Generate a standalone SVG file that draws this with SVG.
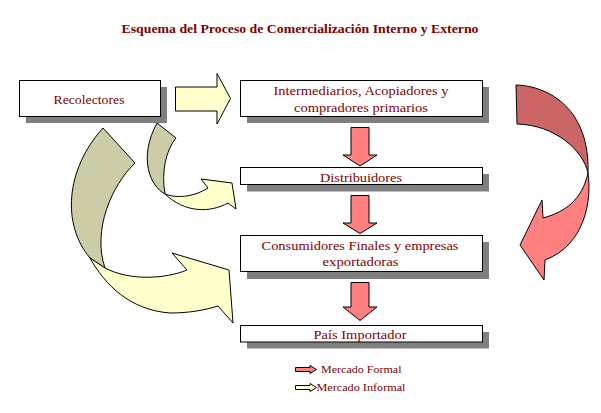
<svg xmlns="http://www.w3.org/2000/svg" width="601" height="413" viewBox="0 0 601 413">
<defs>
<style>
.bg{fill:#ffffff}
.box{fill:#ffffff;stroke:#000000;stroke-width:1}
.sh{fill:#808080}
.t{font-family:"Liberation Serif","Times New Roman",serif;font-size:13px;fill:#800000;text-anchor:middle}
.title{font-family:"Liberation Serif","Times New Roman",serif;font-size:12.5px;font-weight:bold;fill:#800000;text-anchor:middle}
.lg{font-family:"Liberation Serif","Times New Roman",serif;font-size:11px;fill:#800000}
.red{fill:#FF8080;stroke:#000000;stroke-width:1;stroke-linejoin:miter}
.dred{fill:#CC6666;stroke:#000000;stroke-width:1}
.yel{fill:#FFFFCC;stroke:#000000;stroke-width:1}
.tan{fill:#CCCCA6;stroke:#000000;stroke-width:1}
</style>
</defs>
<rect class="bg" x="0" y="0" width="601" height="413"/>
<text class="title" x="300" y="33" textLength="357" lengthAdjust="spacingAndGlyphs">Esquema del Proceso de Comercialización Interno y Externo</text>

<g id="connectors">
  <!-- Recolectores -> Intermediarios straight yellow arrow -->
  <polygon class="yel" points="175.5,87 217,87 217,73.5 230.5,98.5 217,124 217,111 175.5,111"/>
  <!-- red down arrows -->
  <polygon class="red" points="351,127.5 369,127.5 369,155 377,155 360,166 343,155 351,155"/>
  <polygon class="red" points="351,195.5 369,195.5 369,223 377,223 360,233.5 343,223 351,223"/>
  <polygon class="red" points="351,282.5 369,282.5 369,307 377,307 360,320.5 343,307 351,307"/>
  <!-- right curved arrow: Intermediarios -> Consumidores -->
  <path class="dred" d="M516,85 C550,86 590,110 588,173 C583,150 555,125 517,124 Z"/>
  <path class="red" d="M588,173 C592,200 585,245 545,260 L544,280 L520,245 L542,200 L543,218 C565,212 582,200 588,173 Z"/>
  <!-- small left curved arrow: Recolectores -> Distribuidores -->
  <path class="tan" d="M157,123 L176,138 C166,150 161,172 165,194 C150,186 138,158 157,123 Z"/>
  <path class="yel" d="M165,194 C175,198 192,198 208,188 L201,179 L232,183 L236,209 L228,203 C210,213 185,213 165,194 Z"/>
  <!-- big left curved arrow: Recolectores -> Consumidores -->
  <path class="tan" d="M103,128 L135,163 C112,185 92,230 105,268 L90,258 C62,225 65,170 103,128 Z"/>
  <path class="yel" d="M90,258 C105,285 130,310 170,313 C190,313 205,310 218,306 L233,323 L229,270 L172,253 L187,270 C165,279 130,281 105,268 Z"/>
</g>

<g id="recolectores">
  <rect class="sh" x="26" y="87" width="141" height="36"/>
  <rect class="box" x="19.5" y="80.5" width="141" height="36"/>
  <text class="t" x="89" y="103.5" textLength="71" lengthAdjust="spacingAndGlyphs">Recolectores</text>
</g>

<g id="intermediarios">
  <rect class="sh" x="247" y="87" width="242" height="36"/>
  <rect class="box" x="240.5" y="80.5" width="242" height="36"/>
  <text class="t" x="361" y="95" textLength="175" lengthAdjust="spacingAndGlyphs">Intermediarios, Acopiadores y</text>
  <text class="t" x="361" y="112" textLength="134" lengthAdjust="spacingAndGlyphs">compradores primarios</text>
</g>

<g id="distribuidores">
  <rect class="sh" x="247" y="174" width="242" height="17.5"/>
  <rect class="box" x="240.5" y="167.5" width="242" height="17"/>
  <text class="t" x="361" y="181.5" textLength="82" lengthAdjust="spacingAndGlyphs">Distribuidores</text>
</g>

<g id="consumidores">
  <rect class="sh" x="247" y="242" width="242" height="37"/>
  <rect class="box" x="240.5" y="235.5" width="242" height="36"/>
  <text class="t" x="360" y="249.5" textLength="197" lengthAdjust="spacingAndGlyphs">Consumidores Finales y empresas</text>
  <text class="t" x="360.5" y="266" textLength="76" lengthAdjust="spacingAndGlyphs">exportadoras</text>
</g>

<g id="pais">
  <rect class="sh" x="247" y="332" width="242" height="16.5"/>
  <rect class="box" x="240.5" y="325.5" width="242" height="16.5"/>
  <text class="t" x="360" y="339" textLength="93" lengthAdjust="spacingAndGlyphs">País Importador</text>
</g>

<g id="legend">
  <polygon class="red" points="295.5,367.5 310,367.5 310,365.5 316.5,369.5 310,373.5 310,371.5 295.5,371.5"/>
  <text class="lg" x="321" y="373" textLength="80.5" lengthAdjust="spacingAndGlyphs">Mercado Formal</text>
  <polygon class="yel" points="295.5,385.5 310,385.5 310,383.5 316.5,387.5 310,391.5 310,389.5 295.5,389.5"/>
  <text class="lg" x="316.5" y="391" textLength="89" lengthAdjust="spacingAndGlyphs">Mercado Informal</text>
</g>
</svg>
